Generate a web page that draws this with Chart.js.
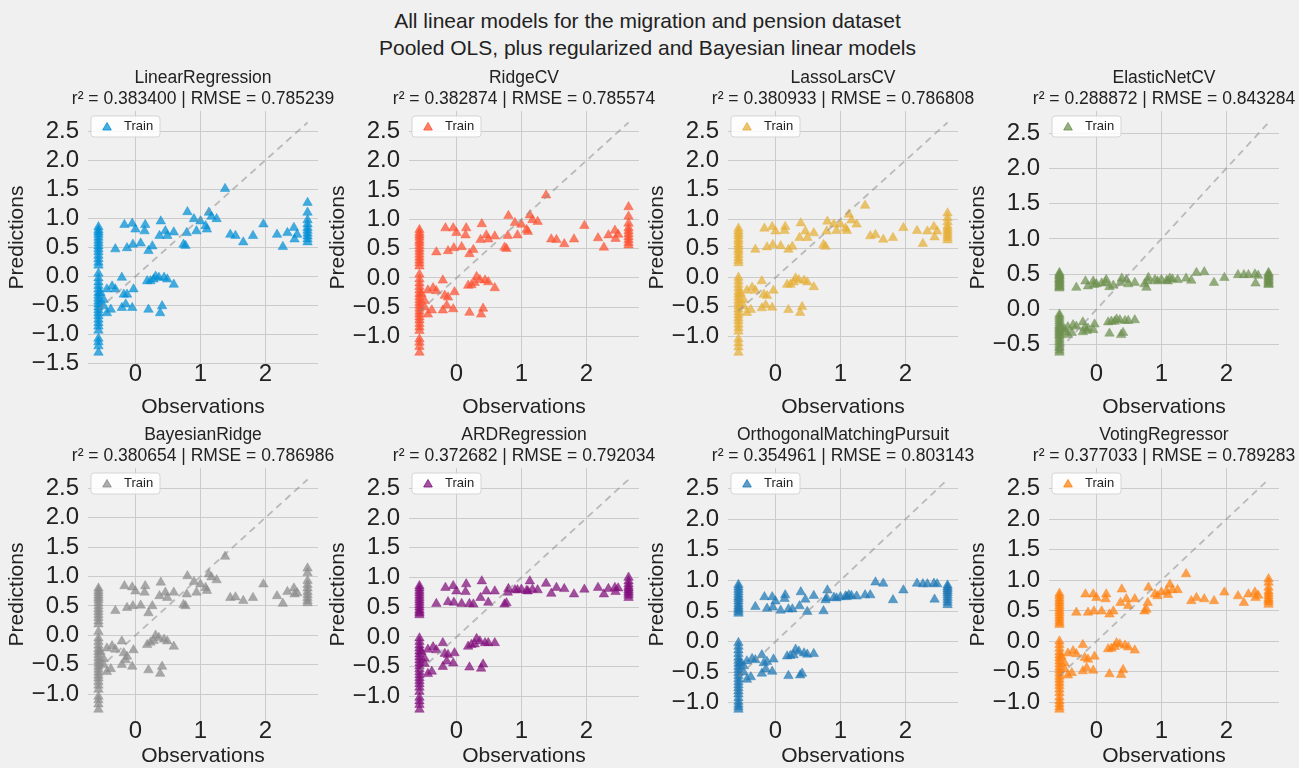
<!DOCTYPE html>
<html>
<head>
<meta charset="utf-8">
<script src="https://cdn.jsdelivr.net/npm/chart.js@4.4.1/dist/chart.umd.min.js"></script>
<style>
  body { margin: 0; background: #f0f0f0; width: 1299px; height: 768px; overflow: hidden; position: relative;
         font-family: "Liberation Sans", Arial, sans-serif; }
  #suptitle { position: absolute; left: 0; top: 7px; width: 1295px; text-align: center;
              font-size: 21px; line-height: 27px; color: #222; }
  canvas { position: absolute; }
</style>
</head>
<body>
<div id="suptitle">All linear models for the migration and pension dataset<br>Pooled OLS, plus regularized and Bayesian linear models</div>
<script>
// model names and scores shown in the panel titles
const modelNames = ['LinearRegression', 'RidgeCV', 'LassoLarsCV', 'ElasticNetCV',
                    'BayesianRidge', 'ARDRegression', 'OrthogonalMatchingPursuit', 'VotingRegressor'];
const r2Scores = [0.383400, 0.382874, 0.380933, 0.288872, 0.380654, 0.372682, 0.354961, 0.377033];
const rmseScores = [0.785239, 0.785574, 0.786808, 0.843284, 0.786986, 0.792034, 0.803143, 0.789283];

// observed values (train set), same for every model
const observations = [
  -0.57, -0.57, -0.57, -0.57, -0.57, -0.57, -0.57, -0.57, -0.57, -0.57, -0.57, -0.57,
  -0.57, -0.57, -0.57, -0.57, -0.57, -0.57, -0.57, -0.57, -0.57, -0.57, -0.57, -0.57,
  -0.57, -0.57, -0.57, -0.57, -0.57, -0.57, -0.57, -0.57, -0.57, -0.57, -0.57, -0.57,
  -0.31, -0.17, -0.05, 0.00, -0.13, -0.04, 0.08, 0.15, 0.14, 0.20, 0.26, 0.39, 0.37, 0.46, 0.49, 0.59,
  0.74, 0.79, 0.80, 0.90, 0.77, 0.94, 1.00, 1.08, 1.10, 1.13, 1.17, 1.25, 1.38, 1.46, 1.54, 1.66,
  1.81, 1.97, 2.18, 2.27, 2.34, 2.44, 2.45, 2.49,
  -0.21, -0.36, -0.44, -0.31, -0.18, -0.13, -0.15, -0.21, -0.38, -0.03, -0.05, 0.18, 0.23,
  0.31, 0.36, 0.44, 0.49, 0.59, 0.20, 0.38, 0.41, 0.28, -0.49, -0.49, -0.44, -0.54,
  2.65, 2.65, 2.65, 2.65, 2.65, 2.65, 2.65, 2.65, 2.65, 2.65
];

// predictions of each model, same order as observations
const predLinear = [
  0.85, 0.80, 0.76, 0.72, 0.67, 0.62, 0.57, 0.52, 0.47, 0.42, 0.36, 0.30, 0.24, 0.19,
  0.05, -0.03, -0.10, -0.16, -0.22, -0.28, -0.33, -0.38, -0.43, -0.48, -0.53, -0.58, -0.63, -0.68, -0.74, -0.80, -0.86, -0.93,
  -1.07, -1.13, -1.20, -1.31,
  0.47, 0.89, 0.91, 0.81, 0.49, 0.55, 0.57, 0.89, 0.78, 0.44, 0.52, 0.95, 0.70, 0.78, 0.70, 0.76,
  0.55, 0.75, 1.11, 0.99, 0.53, 0.78, 0.95, 0.87, 0.81, 1.10, 1.03, 0.99, 1.51, 0.72, 0.70, 0.59,
  0.70, 0.90, 0.72, 0.51, 0.75, 0.84, 0.64, 0.72,
  -0.02, -0.17, -0.22, -0.22, -0.31, -0.31, -0.48, -0.54, -0.57, -0.22, -0.54, -0.08, -0.08,
  0.00, -0.02, -0.02, -0.05, -0.14, -0.57, -0.63, -0.51, -0.05, -0.40, -0.51, -0.63, -0.28,
  1.27, 1.10, 0.97, 0.90, 0.84, 0.79, 0.74, 0.69, 0.64, 0.59
];
const predRidge = [
  0.82, 0.77, 0.73, 0.69, 0.64, 0.60, 0.55, 0.50, 0.45, 0.40, 0.35, 0.30, 0.25, 0.20,
  0.06, -0.02, -0.09, -0.15, -0.21, -0.27, -0.32, -0.37, -0.42, -0.47, -0.52, -0.57, -0.62, -0.67, -0.72, -0.78, -0.84, -0.90,
  -1.04, -1.10, -1.17, -1.27,
  0.44, 0.85, 0.85, 0.77, 0.46, 0.51, 0.53, 0.85, 0.73, 0.41, 0.48, 0.92, 0.65, 0.73, 0.66, 0.71,
  0.52, 0.72, 1.06, 0.94, 0.50, 0.73, 0.91, 0.82, 0.79, 1.07, 0.99, 0.96, 1.41, 0.66, 0.65, 0.58,
  0.66, 0.89, 0.68, 0.52, 0.73, 0.81, 0.67, 0.74,
  -0.04, -0.17, -0.21, -0.22, -0.30, -0.33, -0.47, -0.55, -0.55, -0.24, -0.53, -0.13, -0.12,
  0.02, -0.03, -0.04, -0.07, -0.17, -0.59, -0.62, -0.52, -0.08, -0.39, -0.50, -0.62, -0.27,
  1.21, 1.05, 0.93, 0.85, 0.80, 0.75, 0.70, 0.65, 0.60, 0.56
];
const predLasso = [
  0.84, 0.79, 0.75, 0.71, 0.66, 0.62, 0.57, 0.53, 0.48, 0.44, 0.39, 0.34, 0.29, 0.25,
  0.00, -0.06, -0.12, -0.18, -0.24, -0.29, -0.34, -0.39, -0.44, -0.49, -0.54, -0.59, -0.64, -0.69, -0.74, -0.80, -0.86, -0.92,
  -1.05, -1.12, -1.19, -1.28,
  0.48, 0.84, 0.87, 0.79, 0.52, 0.56, 0.54, 0.87, 0.80, 0.48, 0.53, 0.93, 0.68, 0.79, 0.68, 0.76,
  0.56, 0.79, 0.96, 0.91, 0.53, 0.80, 0.91, 0.84, 0.80, 1.08, 0.98, 0.91, 1.23, 0.71, 0.73, 0.65,
  0.68, 0.85, 0.80, 0.58, 0.79, 0.87, 0.69, 0.79,
  -0.06, -0.17, -0.22, -0.22, -0.29, -0.31, -0.47, -0.52, -0.55, -0.22, -0.51, -0.12, -0.12,
  -0.01, -0.04, -0.05, -0.08, -0.16, -0.55, -0.60, -0.50, -0.08, -0.38, -0.49, -0.60, -0.27,
  1.10, 1.02, 0.95, 0.88, 0.84, 0.80, 0.76, 0.72, 0.68, 0.64
];
const predElastic = [
  0.52, 0.50, 0.48, 0.47, 0.45, 0.43, 0.42, 0.40, 0.38, 0.37, 0.35, 0.33, 0.32, 0.30,
  -0.07, -0.10, -0.13, -0.16, -0.19, -0.22, -0.24, -0.26, -0.28, -0.30, -0.32, -0.34, -0.36, -0.38, -0.41, -0.44, -0.47, -0.50,
  -0.53, -0.55, -0.58, -0.61,
  0.31, 0.40, 0.40, 0.36, 0.33, 0.35, 0.37, 0.42, 0.38, 0.32, 0.34, 0.44, 0.38, 0.42, 0.36, 0.38,
  0.36, 0.40, 0.45, 0.42, 0.31, 0.40, 0.42, 0.41, 0.40, 0.44, 0.43, 0.42, 0.44, 0.41, 0.52, 0.53,
  0.38, 0.45, 0.49, 0.49, 0.49, 0.50, 0.37, 0.48,
  -0.18, -0.22, -0.25, -0.24, -0.26, -0.27, -0.30, -0.32, -0.33, -0.21, -0.29, -0.18, -0.17,
  -0.14, -0.15, -0.16, -0.16, -0.15, -0.34, -0.36, -0.33, -0.17, -0.28, -0.32, -0.36, -0.25,
  0.52, 0.50, 0.48, 0.46, 0.44, 0.42, 0.40, 0.38, 0.36, 0.35
];
const predBayes = [
  0.80, 0.76, 0.72, 0.68, 0.64, 0.60, 0.55, 0.50, 0.45, 0.40, 0.35, 0.30, 0.24, 0.19,
  0.06, -0.05, -0.11, -0.17, -0.23, -0.28, -0.33, -0.38, -0.43, -0.48, -0.53, -0.58, -0.63, -0.68, -0.73, -0.79, -0.85, -0.92,
  -1.04, -1.10, -1.17, -1.26,
  0.42, 0.84, 0.82, 0.75, 0.47, 0.50, 0.51, 0.84, 0.73, 0.38, 0.50, 0.90, 0.67, 0.73, 0.64, 0.73,
  0.52, 0.70, 1.01, 0.91, 0.50, 0.73, 0.87, 0.81, 0.76, 1.04, 0.99, 0.94, 1.34, 0.64, 0.65, 0.59,
  0.64, 0.87, 0.67, 0.54, 0.74, 0.80, 0.70, 0.72,
  -0.10, -0.18, -0.22, -0.24, -0.30, -0.36, -0.42, -0.50, -0.57, -0.25, -0.53, -0.16, -0.12,
  0.00, -0.04, -0.07, -0.10, -0.19, -0.59, -0.65, -0.53, -0.09, -0.40, -0.50, -0.62, -0.28,
  1.14, 1.06, 0.93, 0.86, 0.80, 0.74, 0.69, 0.64, 0.59, 0.55
];
const predARD = [
  0.86, 0.82, 0.78, 0.74, 0.70, 0.66, 0.62, 0.58, 0.54, 0.50, 0.46, 0.43, 0.40, 0.37,
  -0.02, -0.08, -0.14, -0.19, -0.24, -0.29, -0.34, -0.39, -0.44, -0.49, -0.54, -0.59, -0.64, -0.69, -0.74, -0.79, -0.85, -0.92,
  -1.02, -1.08, -1.14, -1.22,
  0.56, 0.83, 0.86, 0.77, 0.59, 0.58, 0.56, 0.89, 0.76, 0.56, 0.55, 0.94, 0.66, 0.77, 0.58, 0.77,
  0.55, 0.75, 0.81, 0.79, 0.57, 0.79, 0.80, 0.78, 0.77, 0.94, 0.80, 0.79, 0.90, 0.73, 0.83, 0.81,
  0.72, 0.80, 0.83, 0.72, 0.81, 0.83, 0.76, 0.82,
  -0.10, -0.17, -0.21, -0.22, -0.28, -0.30, -0.41, -0.50, -0.58, -0.27, -0.44, -0.16, -0.13,
  -0.03, -0.07, -0.10, -0.10, -0.10, -0.51, -0.53, -0.46, -0.12, -0.36, -0.45, -0.62, -0.25,
  1.00, 0.94, 0.89, 0.85, 0.82, 0.79, 0.76, 0.73, 0.70, 0.66
];
const predOMP = [
  0.93, 0.89, 0.85, 0.81, 0.77, 0.73, 0.70, 0.66, 0.62, 0.58, 0.55, 0.52, 0.49, 0.46,
  -0.02, -0.08, -0.14, -0.20, -0.26, -0.31, -0.36, -0.41, -0.46, -0.51, -0.56, -0.61, -0.66, -0.71, -0.76, -0.81, -0.86, -0.92,
  -0.98, -1.03, -1.07, -1.11,
  0.57, 0.73, 0.73, 0.66, 0.54, 0.56, 0.51, 0.76, 0.70, 0.53, 0.53, 0.81, 0.58, 0.69, 0.49, 0.75,
  0.50, 0.71, 0.84, 0.72, 0.68, 0.71, 0.73, 0.74, 0.73, 0.76, 0.75, 0.74, 0.76, 0.76, 0.97, 0.95,
  0.68, 0.84, 0.95, 0.94, 0.94, 0.95, 0.69, 0.94,
  -0.22, -0.28, -0.32, -0.30, -0.35, -0.33, -0.45, -0.52, -0.58, -0.29, -0.49, -0.24, -0.23,
  -0.13, -0.16, -0.19, -0.21, -0.20, -0.56, -0.55, -0.52, -0.22, -0.40, -0.50, -0.62, -0.35,
  0.92, 0.89, 0.86, 0.83, 0.80, 0.76, 0.72, 0.68, 0.64, 0.60
];
const predVoting = [
  0.78, 0.74, 0.70, 0.66, 0.62, 0.58, 0.54, 0.50, 0.46, 0.42, 0.38, 0.34, 0.30, 0.27,
  0.00, -0.06, -0.12, -0.18, -0.23, -0.28, -0.33, -0.38, -0.43, -0.48, -0.53, -0.58, -0.63, -0.68, -0.73, -0.79, -0.85, -0.92,
  -0.98, -1.03, -1.08, -1.12,
  0.47, 0.77, 0.77, 0.71, 0.47, 0.49, 0.49, 0.77, 0.69, 0.44, 0.49, 0.85, 0.63, 0.69, 0.58, 0.69,
  0.49, 0.63, 0.88, 0.77, 0.52, 0.74, 0.80, 0.82, 0.76, 0.93, 0.84, 0.84, 1.10, 0.66, 0.71, 0.69,
  0.66, 0.80, 0.74, 0.63, 0.77, 0.80, 0.71, 0.75,
  -0.06, -0.16, -0.20, -0.21, -0.27, -0.30, -0.44, -0.49, -0.52, -0.25, -0.48, -0.13, -0.12,
  -0.03, -0.05, -0.07, -0.10, -0.15, -0.54, -0.55, -0.47, -0.09, -0.36, -0.46, -0.56, -0.25,
  1.02, 0.96, 0.88, 0.82, 0.78, 0.74, 0.70, 0.67, 0.64, 0.60
];

const allPredictions = [predLinear, predRidge, predLasso, predElastic,
                        predBayes, predARD, predOMP, predVoting];
const colors = ['#008fd5', '#fc4f30', '#e5ae38', '#6d904f', '#8b8b8b', '#810f7c', '#1f77b4', '#ff7f0e'];

// layout of the 4x2 grid (pixel positions of the plot areas)
const plotLefts = [88, 409, 728, 1049];
const plotTops = [111, 468];
const xAxisHeights = [56, 48];
const plotW = 230, plotH = 253;
const yAxisW = 88, headH = 48, rightPad = 30;
const FONT = '"Liberation Sans", Arial, sans-serif';

Chart.defaults.font.family = FONT;
Chart.defaults.color = '#222';

function rgba(hex, a) {
    const n = parseInt(hex.slice(1), 16);
    return 'rgba(' + (n >> 16) + ',' + ((n >> 8) & 255) + ',' + (n & 255) + ',' + a + ')';
}

// matplotlib style autoscale: data limits plus 5% margins
function paddedRange(values) {
    const lo = Math.min(...values), hi = Math.max(...values);
    const pad = (hi - lo) * 0.05;
    return [lo - pad, hi + pad];
}

// two-line title over each panel, centered on the plot area
const panelTitle = {
    id: 'panelTitle',
    afterDraw(chart, args, opts) {
        const ctx = chart.ctx;
        const area = chart.chartArea;
        const cx = (area.left + area.right) / 2;
        ctx.save();
        ctx.fillStyle = '#222';
        ctx.font = '17.5px ' + FONT;
        ctx.textAlign = 'center';
        ctx.textBaseline = 'middle';
        ctx.fillText(opts.lines[0], cx, area.top - 33);
        ctx.fillText(opts.lines[1], cx, area.top - 12);
        ctx.restore();
    }
};

// small "Train" legend box in the upper left corner of the plot area
const trainLegend = {
    id: 'trainLegend',
    afterDatasetsDraw(chart, args, opts) {
        const ctx = chart.ctx;
        const area = chart.chartArea;
        const ds = chart.data.datasets[1];
        const x = area.left + 3, y = area.top + 5, w = 69, h = 21;
        ctx.save();
        ctx.beginPath();
        ctx.roundRect(x, y, w, h, 3);
        ctx.fillStyle = 'rgba(255,255,255,0.85)';
        ctx.fill();
        ctx.strokeStyle = 'rgba(210,210,210,0.9)';
        ctx.lineWidth = 1;
        ctx.stroke();
        ctx.fillStyle = ds.backgroundColor;
        ctx.strokeStyle = ds.borderColor;
        Chart.helpers.drawPoint(ctx, {pointStyle: 'triangle', radius: 5, borderWidth: 0.5, rotation: 0},
                                x + 16, y + h / 2 + 1);
        ctx.fillStyle = '#222';
        ctx.font = '13px ' + FONT;
        ctx.textAlign = 'left';
        ctx.textBaseline = 'middle';
        ctx.fillText(ds.label, x + 33, y + h / 2);
        ctx.restore();
    }
};

const obsMin = Math.min(...observations);
const obsMax = Math.max(...observations);
const xRange = paddedRange(observations);

modelNames.forEach((name, i) => {
    const preds = allPredictions[i];
    if (preds.length !== observations.length) throw new Error(name + ' has ' + preds.length + ' values');
    const col = i % 4, row = Math.floor(i / 4);
    const xAxisH = xAxisHeights[row];
    const yRange = paddedRange(preds.concat([obsMin, obsMax]));

    const canvas = document.createElement('canvas');
    canvas.width = yAxisW + plotW + rightPad;
    canvas.height = headH + plotH + xAxisH;
    canvas.style.left = (plotLefts[col] - yAxisW) + 'px';
    canvas.style.top = (plotTops[row] - headH) + 'px';
    document.body.appendChild(canvas);

    new Chart(canvas, {
        data: {
            datasets: [{
                type: 'line',
                label: 'ideal',
                data: [{x: obsMin, y: obsMin}, {x: obsMax, y: obsMax}],
                borderColor: 'rgba(140,140,140,0.55)',
                borderWidth: 1.8,
                borderDash: [7, 5],
                pointRadius: 0
            }, {
                type: 'scatter',
                label: 'Train',
                data: observations.map((o, k) => ({x: o, y: preds[k]})),
                pointStyle: 'triangle',
                pointRadius: 5.5,
                pointHoverRadius: 5.5,
                backgroundColor: rgba(colors[i], 0.72),
                borderColor: rgba(colors[i], 0.8),
                borderWidth: 0.5
            }]
        },
        options: {
            responsive: false,
            animation: false,
            devicePixelRatio: 1,
            layout: { padding: { top: headH, right: rightPad, left: 0, bottom: 0 } },
            plugins: {
                legend: { display: false },
                tooltip: { enabled: false },
                panelTitle: {
                    lines: [name, 'r\u00b2 = ' + r2Scores[i].toFixed(6) + ' | RMSE = ' + rmseScores[i].toFixed(6)]
                }
            },
            scales: {
                x: {
                    type: 'linear',
                    min: xRange[0],
                    max: xRange[1],
                    afterFit: s => { s.height = xAxisH; },
                    border: { display: false },
                    grid: { color: '#cbcbcb', drawTicks: false },
                    ticks: { stepSize: 1, includeBounds: false, autoSkip: false, padding: -4,
                             font: { size: 24 }, color: '#222' },
                    title: { display: true, text: 'Observations', font: { size: 21 }, padding: { top: 0, bottom: 0 } }
                },
                y: {
                    type: 'linear',
                    min: yRange[0],
                    max: yRange[1],
                    afterFit: s => { s.width = yAxisW; },
                    border: { display: false },
                    grid: { color: '#cbcbcb', drawTicks: false },
                    ticks: {
                        stepSize: 0.5, includeBounds: false, autoSkip: false, padding: 9,
                        font: { size: 24 }, color: '#222',
                        callback: v => v.toFixed(1).replace('-', '\u2212')
                    },
                    title: { display: true, text: 'Predictions', font: { size: 21 }, padding: { top: 5, bottom: 0 } }
                }
            }
        },
        plugins: [panelTitle, trainLegend]
    });
});
</script>
</body>
</html>
